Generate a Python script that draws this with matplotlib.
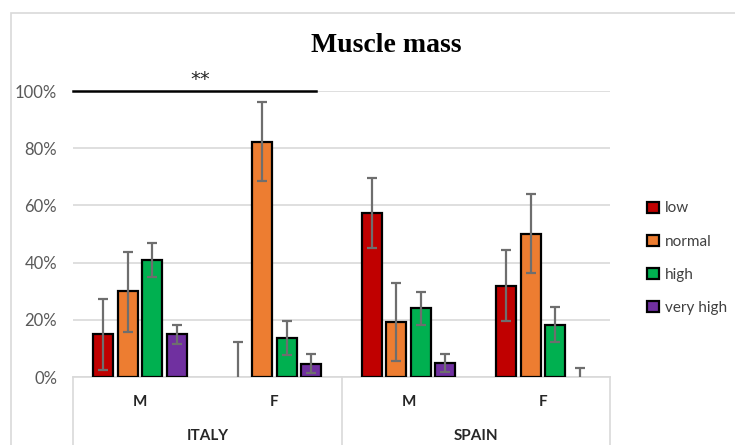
import matplotlib
matplotlib.use("Agg")
import matplotlib.pyplot as plt
import matplotlib.transforms as mtransforms
from matplotlib.patches import Rectangle
import numpy as np

plt.rcParams['font.family'] = ['Lato', 'DejaVu Sans']

# data (fractions)
countries = ["ITALY", "SPAIN"]
sexes = ["M", "F", "M", "F"]
series = ["low", "normal", "high", "very high"]
colors = ["#C00000", "#ED7D31", "#00B050", "#7030A0"]

values = {
    "low":       [0.15, 0.00, 0.573, 0.319],
    "normal":    [0.300, 0.823, 0.192, 0.501],
    "high":      [0.410, 0.138, 0.240, 0.183],
    "very high": [0.150, 0.047, 0.048, 0.00],
}
err_low = {
    "low":       [0.124, 0.00, 0.123, 0.123],
    "normal":    [0.143, 0.138, 0.137, 0.136],
    "high":      [0.060, 0.061, 0.058, 0.060],
    "very high": [0.035, 0.033, 0.032, 0.00],
}
err_high = {
    "low":       [0.122, 0.123, 0.124, 0.125],
    "normal":    [0.137, 0.139, 0.138, 0.139],
    "high":      [0.059, 0.058, 0.058, 0.062],
    "very high": [0.032, 0.032, 0.031, 0.030],
}

fig = plt.figure(figsize=(7.35, 4.45), dpi=100)
ax = fig.add_axes([73 / 735, 1 - 377 / 445, (610 - 73) / 735, (377 - 91) / 445])

x = np.arange(len(sexes))
step = 0.182
width = 0.149
ecol = "#6e6e6e"
for i, s in enumerate(series):
    v = np.array(values[s])
    lo = np.array(err_low[s])
    hi = np.array(err_high[s])
    pos = x + (i - 1.5) * step
    lw = [0 if val == 0 else 1.6 for val in v]
    ax.bar(pos, v, width, color=colors[i], edgecolor="black",
           linewidth=lw, label=s, zorder=3)
    nz = v > 0
    ax.errorbar(pos[nz], v[nz], yerr=[lo[nz], hi[nz]], fmt="none",
                ecolor=ecol, elinewidth=1.6, capsize=3.6, capthick=1.6, zorder=4)
    # zero-height bars: only the upper whisker shows
    z = ~nz
    if z.any():
        ax.vlines(pos[z], v[z], v[z] + hi[z], color=ecol, lw=1.6, zorder=4)
        ax.plot(pos[z], v[z] + hi[z], ls="none", marker="_", ms=7.2, mew=1.6,
                color=ecol, zorder=4)

ax.set_xlim(-0.5, 3.5)
ax.set_ylim(0, 1.0)
ax.set_yticks(np.arange(0, 1.01, 0.2))
ax.set_yticklabels([f"{int(round(t * 100))}%" for t in np.arange(0, 1.01, 0.2)])
ax.tick_params(axis="y", length=0, pad=11.5, labelsize=12, labelcolor="#595959")
ax.tick_params(axis="x", length=0, labelbottom=False)
ax.yaxis.grid(True, color="#D9D9D9", linewidth=1.2, zorder=0)
for sp in ["top", "right", "left"]:
    ax.spines[sp].set_visible(False)
ax.spines["bottom"].set_color("#D9D9D9")
ax.spines["bottom"].set_linewidth(1.2)

# two-level category axis
trans = mtransforms.blended_transform_factory(ax.transData, ax.transAxes)
for xi, lab in zip(x, sexes):
    ax.text(xi, -0.087, lab, transform=trans, ha="center", va="center",
            fontsize=11, fontweight="bold", color="#262626")
for ci, c in enumerate(countries):
    ax.text(2 * ci + 0.5, -0.206, c, transform=trans, ha="center", va="center",
            fontsize=11, fontweight="bold", color="#262626")
for xs in [-0.5, 1.5, 3.5]:
    ax.plot([xs, xs], [0, -0.26], transform=trans, color="#D9D9D9", lw=1.2, clip_on=False)

# significance bar
ax.plot([-0.5, 1.31], [1.0, 1.0], color="black", lw=1.8, clip_on=False, zorder=5)
ax.text(0.446, 1.04, "**", ha="center", va="center", fontsize=14, color="#262626",
        family="DejaVu Sans")

fig.text(386 / 735, 1 - 45 / 445, "Muscle mass", ha="center", va="center",
         fontsize=20, fontweight="bold", family="Liberation Serif")

ax.legend(loc="center left", bbox_to_anchor=(0.862, 0.42), bbox_transform=fig.transFigure,
          frameon=False, fontsize=11, handlelength=0.75, handleheight=0.75,
          handletextpad=0.4, labelspacing=1.25, labelcolor="#404040")

# chart-area border
fig.patches.append(Rectangle((11 / 735, -0.05), 1.0, 1 - 13 / 445 + 0.05, transform=fig.transFigure,
                             fill=False, edgecolor="#D9D9D9", lw=1.2))

fig.savefig("out.png", dpi=100)
